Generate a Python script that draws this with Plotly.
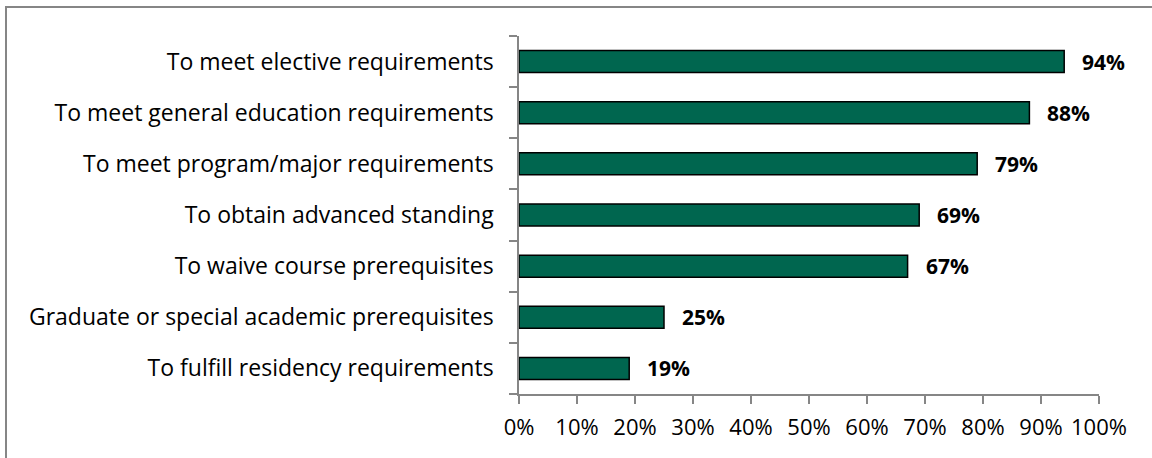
import plotly.graph_objects as go

categories = [
    "To meet elective requirements",
    "To meet general education requirements",
    "To meet program/major requirements",
    "To obtain advanced standing",
    "To waive course prerequisites",
    "Graduate or special academic prerequisites",
    "To fulfill residency requirements",
]
values = [94, 88, 79, 69, 67, 25, 19]
tick_vals = list(range(0, 101, 10))
tick_text = [f"{v}%" for v in tick_vals]

W, H = 1152, 458
ML, MR, MT, MB = 519, 53, 36, 64
PW = W - ML - MR
PH = H - MT - MB

FONT = "Open Sans"
FS = 21
FS_X = 22
FS_CAT = 23
GREEN = "#00664F"
GRAY = "#868686"

fig = go.Figure()
fig.add_trace(go.Bar(
    x=values,
    y=categories,
    orientation="h",
    marker=dict(color=GREEN, line=dict(color="#000000", width=1.5)),
    hoverinfo="skip",
))

for c, v in zip(categories, values):
    fig.add_annotation(
        x=v, y=c, text=f"<b>{v}%</b>", showarrow=False,
        xanchor="left", yanchor="middle", xshift=16,
        font=dict(family=FONT, size=FS, color="#000000"),
    )

def px_to_paper_x(px):
    return (px - ML) / PW

def px_to_paper_y(py):
    return (MT + PH - py) / PH

fig.add_shape(
    type="rect", xref="paper", yref="paper",
    x0=px_to_paper_x(6), x1=px_to_paper_x(1170),
    y0=px_to_paper_y(480), y1=px_to_paper_y(7),
    line=dict(color=GRAY, width=2), fillcolor="rgba(0,0,0,0)", layer="below",
)

fig.update_layout(
    width=W, height=H,
    margin=dict(l=ML, r=MR, t=MT, b=MB, autoexpand=False),
    paper_bgcolor="white", plot_bgcolor="white",
    showlegend=False,
    bargap=0.57,
    font=dict(family=FONT, size=FS, color="#000000"),
    xaxis=dict(
        range=[0, 100], tickvals=tick_vals, ticktext=tick_text,
        showgrid=False, zeroline=False,
        showline=True, linecolor=GRAY, linewidth=1.5,
        ticks="outside", ticklen=8, tickcolor=GRAY, tickwidth=1.5,
        tickfont=dict(family=FONT, size=FS_X, color="#000000"),
        ticklabelstandoff=5,
        fixedrange=True,
    ),
    yaxis=dict(
        categoryorder="array", categoryarray=categories[::-1],
        autorange=True,
        showgrid=False, zeroline=False,
        showline=True, linecolor=GRAY, linewidth=1.5,
        ticks="outside", ticklen=8, tickcolor=GRAY, tickwidth=1.5,
        tickson="boundaries",
        tickfont=dict(family=FONT, size=FS_CAT, color="#000000"),
        ticklabelstandoff=19,
        fixedrange=True,
    ),
)

fig.write_html(
    "out.html",
    config={"displayModeBar": False},
    post_script="document.body.style.margin='0';document.body.style.overflow='hidden';",
)
